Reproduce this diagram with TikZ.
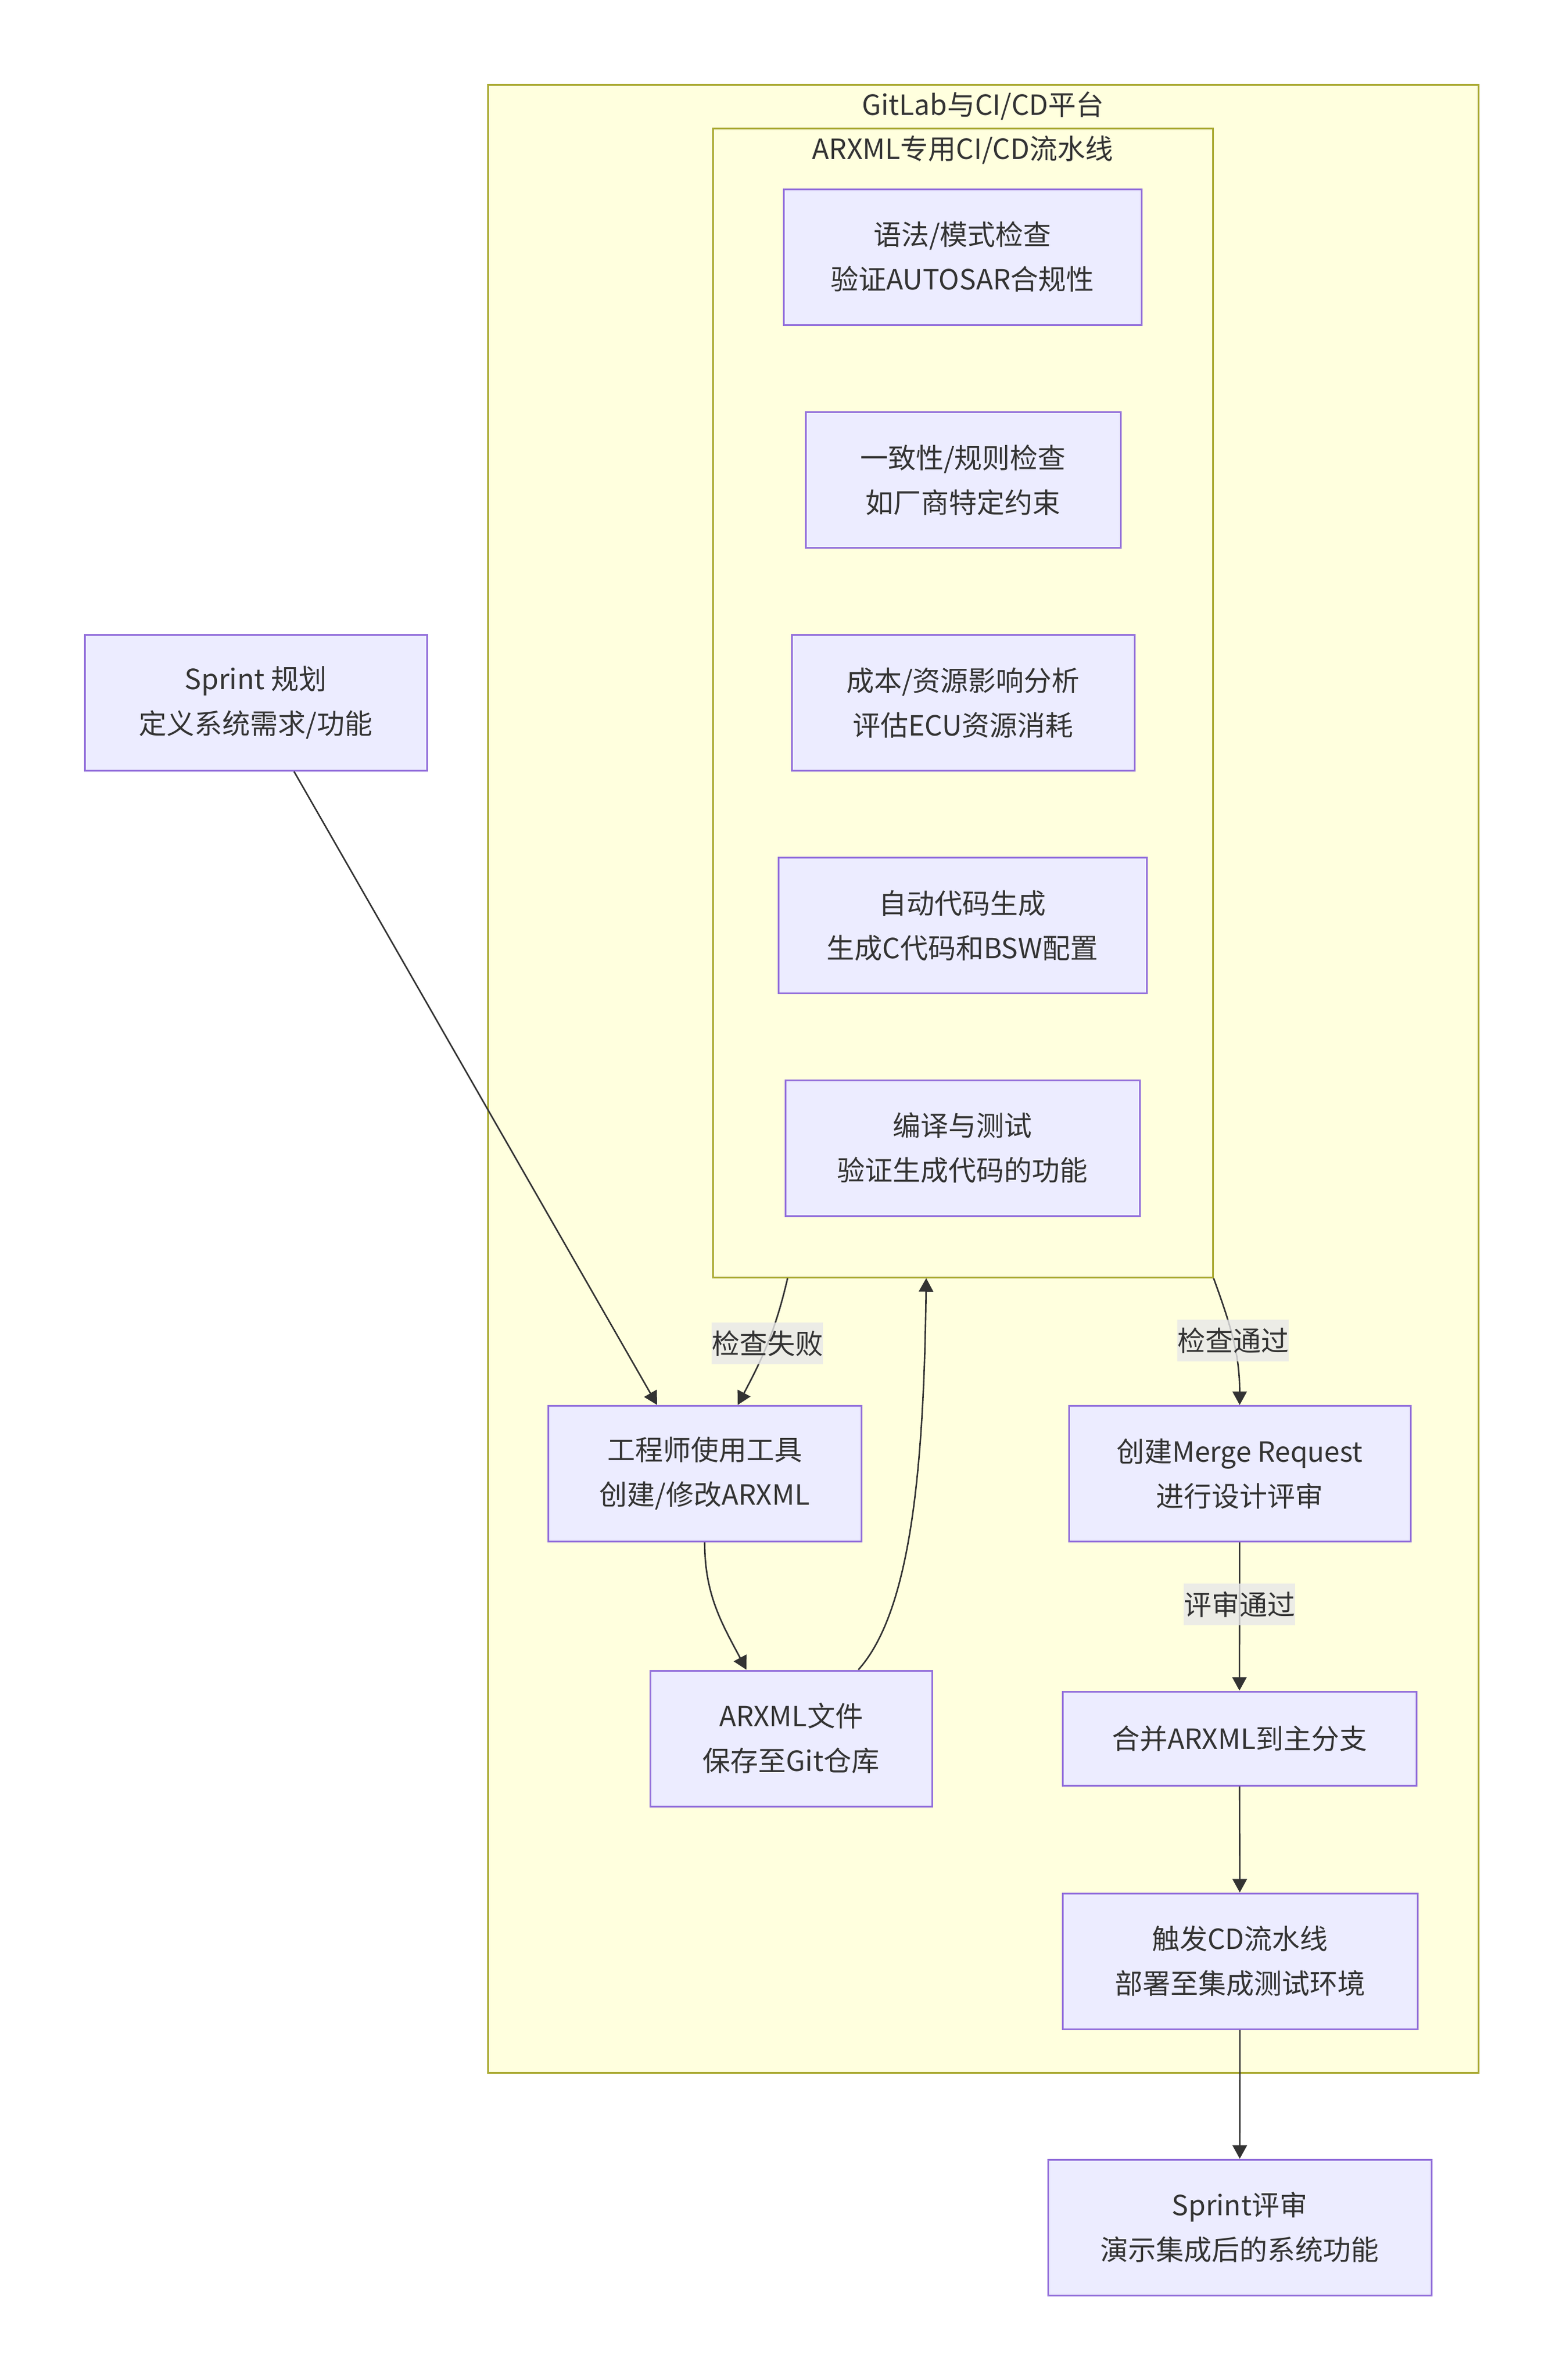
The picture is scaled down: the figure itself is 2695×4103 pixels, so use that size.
\documentclass[tikz,border=0pt]{standalone}
\usepackage{fontspec}
\setmainfont{Noto Sans CJK SC}
\usepackage{tikz}
\usetikzlibrary{arrows.meta}
\definecolor{nodefill}{RGB}{236,236,255}
\definecolor{nodeline}{RGB}{147,112,219}
\definecolor{clusterfill}{RGB}{255,255,222}
\definecolor{clusterline}{RGB}{170,170,51}
\definecolor{labelgray}{RGB}{232,232,232}
\definecolor{textgray}{RGB}{51,51,51}

\begin{document}
\begin{tikzpicture}[x=0.25pt, y=-0.25pt]
    % Define styles
    \tikzstyle{cluster} = [rectangle, draw=clusterline, fill=clusterfill,
                           line width=0.75pt, inner sep=0pt]
    \tikzstyle{title} = [text=textgray, font=\fontsize{12pt}{15pt}\selectfont]
    \tikzstyle{block} = [rectangle, draw=nodeline, fill=nodefill,
                         line width=0.75pt, text=textgray, align=center,
                         font=\fontsize{12pt}{19.25pt}\selectfont,
                         minimum height=58.5pt, inner sep=0pt]
    \tikzstyle{arrow} = [draw=textgray, line width=0.65pt,
                         -{Triangle[length=5.8pt,width=6.2pt]}]
    \tikzstyle{lbl} = [fill=labelgray, fill opacity=0.8, text opacity=1,
                       text=textgray, font=\fontsize{12pt}{15pt}\selectfont,
                       inner sep=0pt, minimum height=18pt, minimum width=48pt]

    \useasboundingbox (0,0) rectangle (2695,4103);

    % Create clusters
    \node[cluster, minimum width=427pt, minimum height=856.75pt] (platform) at (1695,1859.5) {};
    \node[title] (platformtitle) at (1695,183) {GitLab与CI/CD平台};
    \node[cluster, minimum width=215.5pt, minimum height=495.25pt] (pipe) at (1660,1211.5) {};
    \node[title] (pipetitle) at (1660,259) {ARXML专用CI/CD流水线};

    % Create blocks
    \node[block, minimum width=154.25pt] (syntax) at (1659.5,443) {语法/模式检查\\验证AUTOSAR合规性};
    \node[block, minimum width=135.75pt] (rules) at (1660.5,827.5) {一致性/规则检查\\如厂商特定约束};
    \node[block, minimum width=147.75pt] (cost) at (1660.5,1211.5) {成本/资源影响分析\\评估ECU资源消耗};
    \node[block, minimum width=158.75pt] (codegen) at (1659.5,1595.5) {自动代码生成\\生成C代码和BSW配置};
    \node[block, minimum width=152.75pt] (build) at (1659.5,1979) {编译与测试\\验证生成代码的功能};

    \node[block, minimum width=147.5pt] (sprint) at (441,1211.5) {Sprint 规划\\定义系统需求/功能};
    \node[block, minimum width=135pt] (engineer) at (1215,2540.5) {工程师使用工具\\创建/修改ARXML};
    \node[block, minimum width=121.5pt] (arxml) at (1364,2997) {ARXML文件\\保存至Git仓库};
    \node[block, minimum width=147.25pt] (mr) at (2137.5,2540.5) {创建Merge Request\\进行设计评审};
    \node[block, minimum width=152.5pt, minimum height=40.5pt] (merge) at (2137,2997) {合并ARXML到主分支};
    \node[block, minimum width=153pt] (cd) at (2138,3381) {触发CD流水线\\部署至集成测试环境};
    \node[block, minimum width=165.25pt] (review) at (2137.5,3840) {Sprint评审\\演示集成后的系统功能};

    % Draw arrows
    \draw[arrow] ([xshift=16.5pt]sprint.south) -- ([xshift=-20.5pt]engineer.north);
    \draw[arrow] ([xshift=-75.5pt]pipe.south) to[out=-103, in=62]
        node[lbl] {检查失败} ([xshift=14.25pt]engineer.north);
    \draw[arrow] (pipe.south east) to[out=-70, in=90]
        node[lbl] {检查通过} (mr.north);
    \draw[arrow] (engineer.south) to[out=-90, in=118] ([xshift=-19.25pt]arxml.north);
    \draw[arrow] ([xshift=29pt]arxml.north) .. controls +(90,-100) and +(-4,330) .. ([xshift=-15.75pt]pipe.south);
    \draw[arrow] (mr) -- node[lbl, pos=0.42] {评审通过} (merge);
    \draw[arrow] (merge) -- (cd);
    \draw[arrow] (cd) -- (review);
\end{tikzpicture}
\end{document}
